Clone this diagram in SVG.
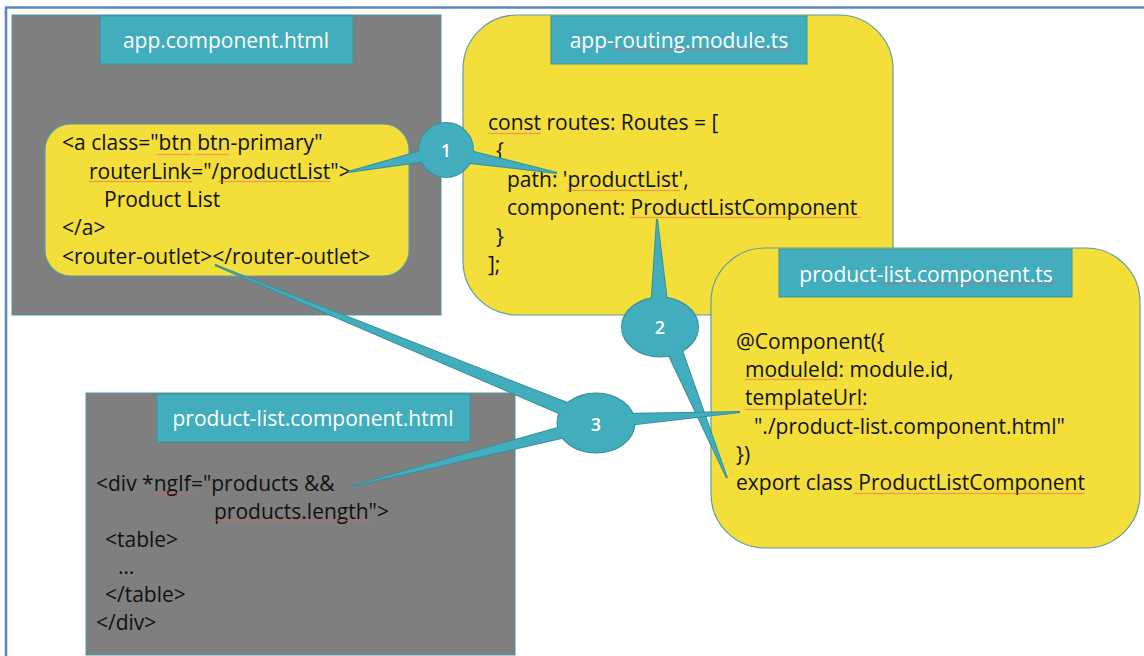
<svg xmlns="http://www.w3.org/2000/svg" width="1144" height="656" viewBox="0 0 1144 656">
<defs>
<pattern id="sq" patternUnits="userSpaceOnUse" x="0" y="0" width="4" height="3">
<path d="M0,2.2 L1,0.8 L2,2.2 L3,0.8 L4,2.2" fill="none" stroke="#e45a5a" stroke-width="0.6" stroke-opacity="0.85"/>
</pattern>
<style>
.gray{fill:#7f7f7f;stroke:#4b97a3;stroke-width:1}
.yel{fill:#f3de3a;stroke:#5f9ea6;stroke-width:1.2}
.tab{fill:#41adbd;stroke:#3a94a2;stroke-width:1}
.tt{font-family:"Open Sans","Liberation Sans",sans-serif;font-size:21px;fill:#ffffff;text-anchor:middle}
.code{font-family:"Open Sans","Liberation Sans",sans-serif;font-size:21px;fill:#111111}
.sq{fill:url(#sq)}
.cs{fill:#41adbd;stroke:#37909d;stroke-width:2}
.cf{fill:#41adbd}
.cn{font-family:"Open Sans","Liberation Sans",sans-serif;font-size:18px;font-weight:600;fill:#ffffff;text-anchor:middle}
</style>
</defs>
<rect x="0" y="0" width="1144" height="656" fill="#ffffff"/>
<path d="M6,656 V7.5 H1144" fill="none" stroke="#5a86c4" stroke-width="2.6"/>

<g id="app-component-html">
<rect class="gray" x="12" y="15" width="429" height="300"/>
<rect class="tab" x="100" y="16" width="253" height="48"/>
<text class="tt" x="226" y="48">app.component.html</text>
<rect class="yel" x="45" y="124" width="364" height="152" rx="26"/>
<text class="code" x="62" y="150">&lt;a class="btn btn-primary"</text>
<text class="code" x="89" y="179">routerLink="/productList"&gt;</text>
<text class="code" x="104" y="207">Product List</text>
<text class="code" x="62" y="235">&lt;/a&gt;</text>
<text class="code" x="62" y="264">&lt;router-outlet&gt;&lt;/router-outlet&gt;</text>
<rect class="sq" x="157" y="153" width="34" height="3"/>
<rect class="sq" x="195" y="153" width="34" height="3"/>
<rect class="sq" x="89" y="180" width="103" height="3"/>
<rect class="sq" x="218" y="180" width="112" height="3"/>
</g>

<g id="app-routing-module-ts">
<rect class="yel" x="463" y="15" width="430" height="300" rx="54"/>
<rect class="tab" x="551" y="16" width="256" height="48"/>
<text class="tt" x="679" y="48">app-routing.module.ts</text>
<text class="code" x="488" y="130">const routes: Routes = [</text>
<text class="code" x="496" y="158">{</text>
<text class="code" x="507" y="187">path: 'productList',</text>
<text class="code" x="507" y="215">component: ProductListComponent</text>
<text class="code" x="496" y="244">}</text>
<text class="code" x="488" y="272">];</text>
<rect class="sq" x="613" y="48" width="177" height="3"/>
<rect class="sq" x="488" y="132" width="53" height="3"/>
<rect class="sq" x="567" y="189" width="113" height="3"/>
<rect class="sq" x="630" y="216" width="231" height="3"/>
</g>

<g id="product-list-component-ts">
<rect class="yel" x="711" y="248" width="429" height="300" rx="54"/>
<rect class="tab" x="779" y="249" width="293" height="48"/>
<text class="tt" x="926" y="282">product-list.component.ts</text>
<text class="code" x="736" y="349">@Component({</text>
<text class="code" x="745" y="377">moduleId: module.id,</text>
<text class="code" x="745" y="405">templateUrl:</text>
<text class="code" x="754" y="434">"./product-list.component.html"</text>
<text class="code" x="736" y="462">})</text>
<text class="code" x="736" y="490">export class ProductListComponent</text>
<rect class="sq" x="882" y="282" width="173" height="3"/>
<rect class="sq" x="745" y="378" width="92" height="3"/>
<rect class="sq" x="745" y="408" width="119" height="3"/>
<rect class="sq" x="854" y="492" width="231" height="3"/>
</g>

<g id="product-list-component-html">
<rect class="gray" x="86" y="393" width="429" height="262"/>
<rect class="tab" x="157" y="394" width="313" height="48"/>
<text class="tt" x="313" y="426">product-list.component.html</text>
<text class="code" x="96" y="491">&lt;div *ngIf="products &amp;&amp;</text>
<text class="code" x="214" y="519">products.length"&gt;</text>
<text class="code" x="105" y="547">&lt;table&gt;</text>
<text class="code" x="118" y="574">…</text>
<text class="code" x="105" y="602">&lt;/table&gt;</text>
<text class="code" x="96" y="630">&lt;/div&gt;</text>
<rect class="sq" x="154" y="492" width="39" height="3"/>
<rect class="sq" x="214" y="519" width="158" height="3"/>
</g>

<g id="connectors">
<g id="callout-1">
<polygon class="cs" points="430,148.6 430,160.6 348,172"/>
<polygon class="cs" points="462,149 462,162 557,173"/>
<circle class="cs" cx="446" cy="150" r="27"/>
<polygon class="cf" points="430,148.6 430,160.6 348,172"/>
<polygon class="cf" points="462,149 462,162 557,173"/>
<circle class="cf" cx="446" cy="150" r="27"/>
<text class="cn" x="446" y="157">1</text>
</g>
<g id="callout-2">
<polygon class="cs" points="651,310 668,310 657,219"/>
<polygon class="cs" points="664,345 680,345 727,478"/>
<ellipse class="cs" cx="660" cy="327" rx="38" ry="29.5"/>
<polygon class="cf" points="651,310 668,310 657,219"/>
<polygon class="cf" points="664,345 680,345 727,478"/>
<ellipse class="cf" cx="660" cy="327" rx="38" ry="29.5"/>
<text class="cn" x="660" y="334">2</text>
</g>
<g id="callout-3">
<polygon class="cs" points="575,406 575,420 215,265"/>
<polygon class="cs" points="575,423 575,435 352,486"/>
<polygon class="cs" points="620,414 620,426 740,412"/>
<ellipse class="cs" cx="596" cy="423" rx="38.5" ry="29.5"/>
<polygon class="cf" points="575,406 575,420 215,265"/>
<polygon class="cf" points="575,423 575,435 352,486"/>
<polygon class="cf" points="620,414 620,426 740,412"/>
<ellipse class="cf" cx="596" cy="423" rx="38.5" ry="29.5"/>
<text class="cn" x="596" y="431">3</text>
</g>
</g>
</svg>
